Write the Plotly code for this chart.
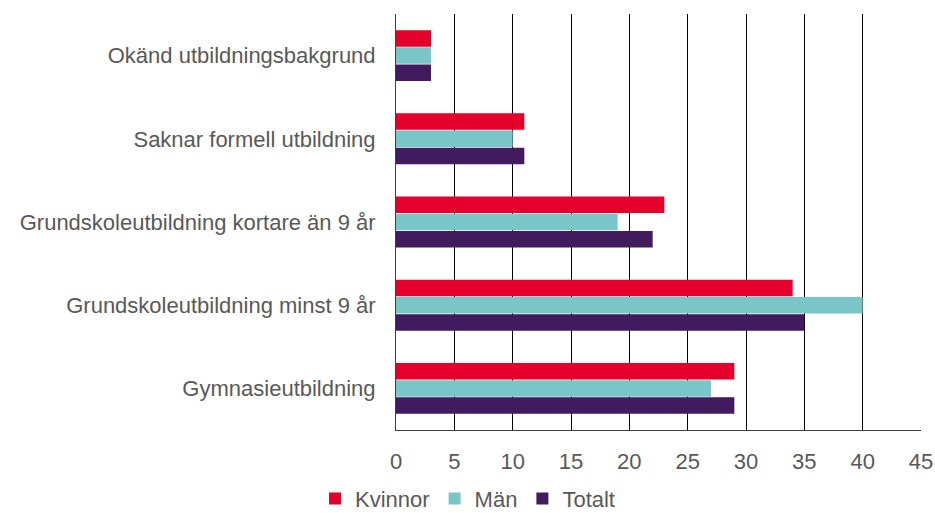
import plotly.graph_objects as go

categories = [
    "Okänd utbildningsbakgrund",
    "Saknar formell utbildning",
    "Grundskoleutbildning kortare än 9 år",
    "Grundskoleutbildning minst 9 år",
    "Gymnasieutbildning",
]
kvinnor = [3, 11, 23, 34, 29]
man = [3, 10, 19, 40, 27]
totalt = [3, 11, 22, 35, 29]
x_ticks = [0, 5, 10, 15, 20, 25, 30, 35, 40, 45]

series = [
    ("Kvinnor", kvinnor, "#E4002B"),
    ("Män", man, "#7AC5C8"),
    ("Totalt", totalt, "#421A5E"),
]

fig = go.Figure()
for name, vals, color in series:
    fig.add_trace(go.Bar(
        y=categories, x=vals, name=name, orientation="h",
        marker=dict(color=color, line=dict(width=0)),
    ))

font_family = "Liberation Sans, Arial, sans-serif"
fs = 22
fig.update_layout(
    width=935, height=513,
    margin=dict(l=396, r=14, t=14, b=83, autoexpand=False),
    paper_bgcolor="white", plot_bgcolor="white",
    barmode="group", bargap=0.38, bargroupgap=0.04,
    font=dict(family=font_family, size=fs, color="#595959"),
    showlegend=True,
    legend=dict(
        orientation="h", xref="container", x=0.5, xanchor="center",
        yref="paper", y=-0.165, yanchor="middle",
        font=dict(size=fs, color="#595959"),
        itemwidth=30, traceorder="normal", tracegroupgap=0,
    ),
    xaxis=dict(
        range=[0, 45], tickvals=x_ticks, ticktext=[str(v) for v in x_ticks],
        showgrid=True, gridcolor="#000000", gridwidth=1,
        showline=True, linecolor="#404040", linewidth=1,
        zeroline=False, ticks="", ticklabelstandoff=12,
        tickfont=dict(size=fs, color="#595959"),
    ),
    yaxis=dict(
        autorange="reversed", showgrid=False,
        showline=True, linecolor="#404040", linewidth=1,
        ticks="", ticklabelstandoff=15,
        tickfont=dict(size=fs, color="#595959"),
    ),
)

fig.write_html("out.html")
